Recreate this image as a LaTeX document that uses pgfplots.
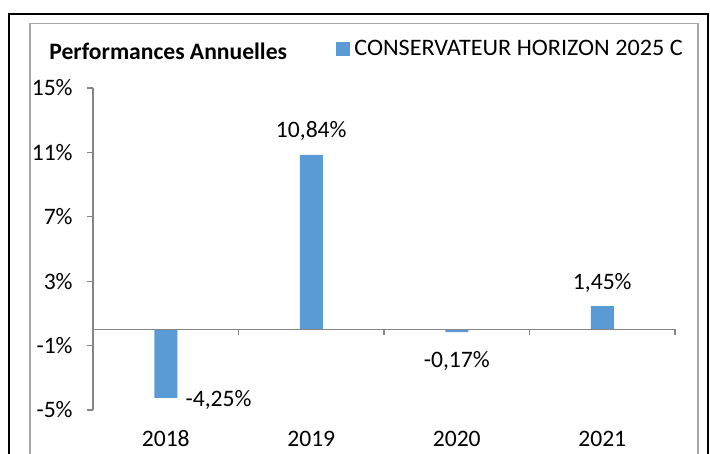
\documentclass[border=0pt]{standalone}
\usepackage{pgfplots}
\pgfplotsset{compat=1.18}
\usepackage{fontspec}
\setmainfont{Carlito}
\definecolor{barblue}{HTML}{5B9BD5}
\definecolor{axgray}{HTML}{868686}
\definecolor{framegray}{HTML}{A6A6A6}
\newcommand\chartfont{\fontsize{11.8bp}{14bp}\selectfont}
\begin{document}
\begin{tikzpicture}[font=\chartfont]
\useasboundingbox (0,0) rectangle (355bp,227bp);
\draw[line width=1.25bp] (4.5bp,-5bp) -- (4.5bp,220bp) -- (354bp,220bp) -- (354bp,-5bp);
\draw[framegray, line width=0.6bp] (15bp,-5bp) -- (15bp,215.25bp) -- (349bp,215.25bp) -- (349bp,-5bp);
\begin{axis}[
  at={(46.5bp,22bp)}, anchor=south west,
  scale only axis, width=291bp, height=161bp,
  xmin=-0.5, xmax=3.5, ymin=-5, ymax=15,
  axis x line*=bottom, axis y line*=left,
  x axis line style={draw=none},
  y axis line style={axgray, line width=0.6bp},
  xtick={0,1,2,3}, xticklabels={2018,2019,2020,2021},
  xtick style={draw=none},
  ytick={-5,-1,3,7,11,15},
  yticklabels={-5\%,-1\%,3\%,7\%,11\%,15\%},
  ytick style={axgray, line width=0.6bp},
  tick align=outside, major tick length=3bp,
  tick label style={font=\chartfont},
  xticklabel style={anchor=base, inner sep=0, yshift=-15.5bp},
  yticklabel style={anchor=east, inner sep=0, xshift=-7bp},
  ybar, bar width=11.5bp,
  legend style={font=\chartfont\addfontfeature{FakeStretch=1.025}, draw=none, fill=none, at={(0.4175,1.121)}, anchor=west, inner sep=0pt},
  legend image code/.code={\fill[barblue] (0bp,-3.5bp) rectangle (7bp,3.5bp);},
  clip=false,
]
\addplot[fill=barblue, draw=none] coordinates {(0,-4.25) (1,10.84) (2,-0.17) (3,1.45)};
\addlegendentry{CONSERVATEUR HORIZON 2025 C}
\draw[axgray, line width=0.6bp] (axis cs:-0.5,0) -- (axis cs:3.5,0);
\draw[axgray, line width=0.6bp] (axis cs:0.5,0) -- ([yshift=-3bp]axis cs:0.5,0);
\draw[axgray, line width=0.6bp] (axis cs:1.5,0) -- ([yshift=-3bp]axis cs:1.5,0);
\draw[axgray, line width=0.6bp] (axis cs:2.5,0) -- ([yshift=-3bp]axis cs:2.5,0);
\draw[axgray, line width=0.6bp] (axis cs:3.5,0) -- ([yshift=-3bp]axis cs:3.5,0);
\node[anchor=base, inner sep=0, yshift=8.5bp] at (axis cs:1,10.84) {10,84\%};
\node[anchor=base, inner sep=0, yshift=8.5bp] at (axis cs:3,1.45) {1,45\%};
\node[anchor=base west, inner sep=0, xshift=9.75bp, yshift=-4.5bp] at (axis cs:0,-4.25) {-4,25\%};
\node[anchor=base, inner sep=0, yshift=-17.5bp] at (axis cs:2,-0.17) {-0,17\%};
\end{axis}
\node[anchor=base west, inner sep=0, font=\chartfont\bfseries] at (24.5bp,197bp) {Performances Annuelles};
\end{tikzpicture}
\end{document}
